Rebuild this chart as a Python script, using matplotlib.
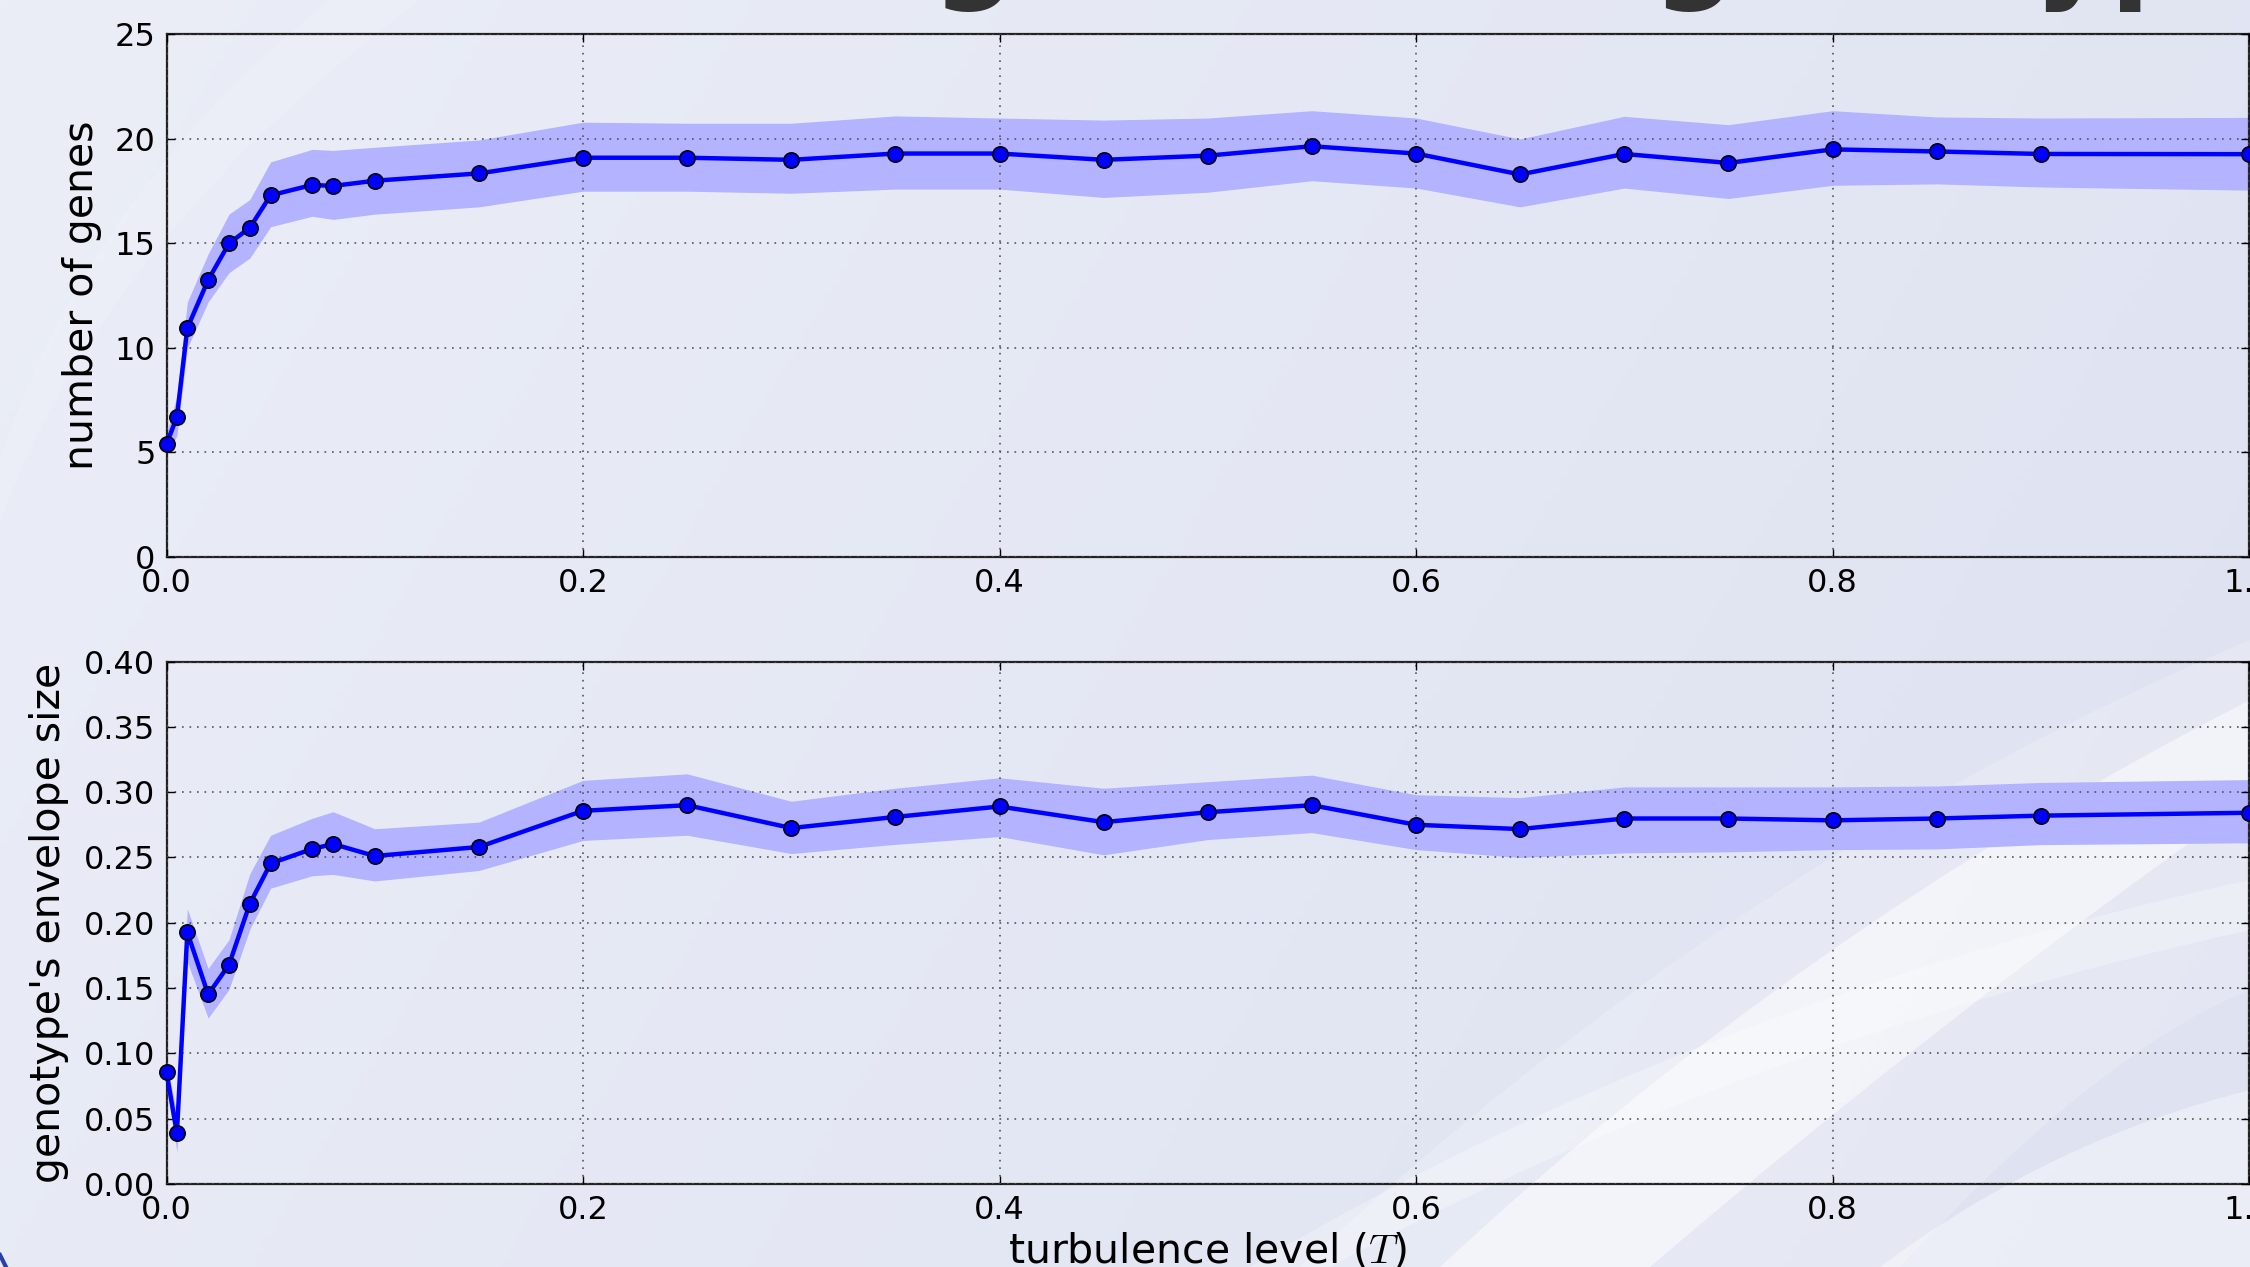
import numpy as np
import matplotlib.pyplot as plt
from matplotlib.path import Path
from matplotlib.patches import PathPatch

plt.rcParams['font.family'] = 'DejaVu Sans'
plt.rcParams['mathtext.fontset'] = 'cm'

# turbulence levels used in the runs
turbulence = [0.0, 0.005, 0.01, 0.02, 0.03, 0.04, 0.05, 0.07, 0.08, 0.1, 0.15,
              0.2, 0.25, 0.3, 0.35, 0.4, 0.45, 0.5, 0.55, 0.6, 0.65, 0.7,
              0.75, 0.8, 0.85, 0.9, 1.0]

# number of genes: mean and spread band
genes_mean = [5.4, 6.7, 10.95, 13.25, 15.0, 15.75, 17.3, 17.8, 17.75, 18.0, 18.35,
              19.1, 19.1, 19.0, 19.3, 19.3, 19.0, 19.2, 19.65, 19.3, 18.3, 19.28,
              18.85, 19.5, 19.4, 19.28, 19.27]
genes_upper = [5.9, 7.7, 12.2, 14.5, 16.4, 17.1, 18.9, 19.5, 19.45, 19.6, 19.95,
               20.8, 20.75, 20.75, 21.1, 21.0, 20.9, 21.0, 21.35, 21.0, 20.0, 21.08,
               20.68, 21.35, 21.05, 21.0, 21.03]
genes_lower = [4.9, 5.8, 10.0, 12.2, 13.6, 14.3, 15.8, 16.3, 16.15, 16.4, 16.75,
               17.5, 17.5, 17.4, 17.6, 17.6, 17.2, 17.45, 18.0, 17.65, 16.75, 17.65,
               17.15, 17.78, 17.85, 17.7, 17.55]

# genotype's envelope size: mean and spread band
env_mean = [0.0855, 0.0388, 0.1927, 0.1451, 0.1678, 0.2145, 0.2454, 0.2565, 0.2603,
            0.2511, 0.258, 0.2857, 0.290, 0.2725, 0.281, 0.289, 0.277, 0.2846, 0.290,
            0.275, 0.2717, 0.2798, 0.2798, 0.2784, 0.2798, 0.282, 0.2842]
env_upper = [0.095, 0.053, 0.2107, 0.165, 0.187, 0.2375, 0.267, 0.280, 0.285,
             0.272, 0.277, 0.309, 0.314, 0.293, 0.303, 0.311, 0.303, 0.308, 0.313,
             0.298, 0.2958, 0.304, 0.304, 0.304, 0.3047, 0.3074, 0.3096]
env_lower = [0.076, 0.0246, 0.170, 0.127, 0.149, 0.195, 0.2265, 0.236, 0.237,
             0.232, 0.240, 0.263, 0.267, 0.253, 0.260, 0.266, 0.252, 0.2637, 0.269,
             0.256, 0.250, 0.2535, 0.2543, 0.256, 0.2565, 0.2598, 0.2612]

W, H = 2250, 1267
fig = plt.figure(figsize=(W / 100, H / 100), dpi=100)

# slide background: soft gradient with pale swooshes
bg = fig.add_axes([0, 0, 1, 1], zorder=-10)
gx = np.linspace(0, 1, 300)
gy = np.linspace(0, 1, 170)
GX, GY = np.meshgrid(gx, gy)
c0 = np.array([235, 238, 247]) / 255.0
c1 = np.array([222, 226, 241]) / 255.0
t = np.clip(0.75 * GX + 0.25 * GY, 0, 1)[..., None]
bg.imshow(c0 * (1 - t) + c1 * t, extent=[0, W, H, 0], aspect='auto')


def swoosh(a0, a1, a2, b0, b1, b2, alpha):
    verts = [a0, a1, a2, b2, b1, b0, a0]
    codes = [Path.MOVETO, Path.CURVE3, Path.CURVE3, Path.LINETO,
             Path.CURVE3, Path.CURVE3, Path.CLOSEPOLY]
    bg.add_patch(PathPatch(Path(verts, codes), facecolor='white',
                           edgecolor='none', alpha=alpha))


swoosh((1300, 1267), (1750, 850), (2250, 640), (1900, 1267), (2100, 1050), (2250, 990), 0.2)
swoosh((1440, 1267), (1800, 930), (2250, 700), (1650, 1267), (1950, 1010), (2250, 800), 0.5)
swoosh((1250, 1267), (1700, 1000), (2250, 880), (1330, 1267), (1750, 1040), (2250, 930), 0.3)
swoosh((1880, 1267), (2050, 1140), (2250, 1090), (2250, 1267), (2250, 1267), (2250, 1267), 0.4)
swoosh((0, 520), (110, 230), (420, 0), (0, 460), (90, 190), (330, 0), 0.15)
bg.plot([0, 6], [1255, 1267], color='#2b3fa8', lw=3)
bg.set_xlim(0, W)
bg.set_ylim(H, 0)
bg.axis('off')

# slide title, mostly above the visible area
fig.text(0.088, 1.0099, 'Number of genes and genotype size', fontsize=84,
         fontweight='bold', color='#333333', ha='left', va='baseline')

ax1 = fig.add_axes([166.5 / W, (H - 557) / H, (2249 - 166.5) / W, (557 - 34.4) / H])
ax2 = fig.add_axes([166.5 / W, (H - 1184) / H, (2249 - 166.5) / W, (1184 - 661.5) / H])

panels = [
    (ax1, genes_mean, genes_lower, genes_upper, 'number of genes',
     (0, 25), np.arange(0, 26, 5), '%d', -0.031),
    (ax2, env_mean, env_lower, env_upper, "genotype's envelope size",
     (0, 0.4), np.arange(0, 0.401, 0.05), '%.2f', -0.047),
]

for ax, mean, lo, hi, label, ylim, yticks, fmt, labx in panels:
    ax.set_facecolor('none')
    ax.fill_between(turbulence, lo, hi, color='#b3b3ff', lw=0, zorder=1)
    ax.plot(turbulence, mean, '-o', color='blue', lw=3.2, markersize=11,
            markerfacecolor='blue', markeredgecolor='black', markeredgewidth=1.2,
            clip_on=False, zorder=3)
    ax.set_xlim(0, 1)
    ax.set_ylim(*ylim)
    ax.set_yticks(yticks)
    ax.set_yticklabels([fmt % v for v in yticks])
    ax.set_xticks(np.arange(0, 1.01, 0.2))
    ax.set_xticklabels(['%.1f' % v for v in np.arange(0, 1.01, 0.2)])
    ax.tick_params(direction='in', length=6, width=1, top=True, right=True,
                   labelsize=23, pad=8, colors='black')
    ax.set_axisbelow(False)
    ax.grid(True, color='#555555', lw=1.2, linestyle=(0, (1, 3.5)), zorder=2)
    for sp in ax.spines.values():
        sp.set_linewidth(1.6)
        sp.set_color('#222222')
    ax.set_ylabel(label, fontsize=29.5)
    ax.yaxis.set_label_coords(labx, 0.5)

ax2.set_xlabel('turbulence level ($T$)', fontsize=29.5, labelpad=4)

fig.savefig('out.png', dpi=100)
